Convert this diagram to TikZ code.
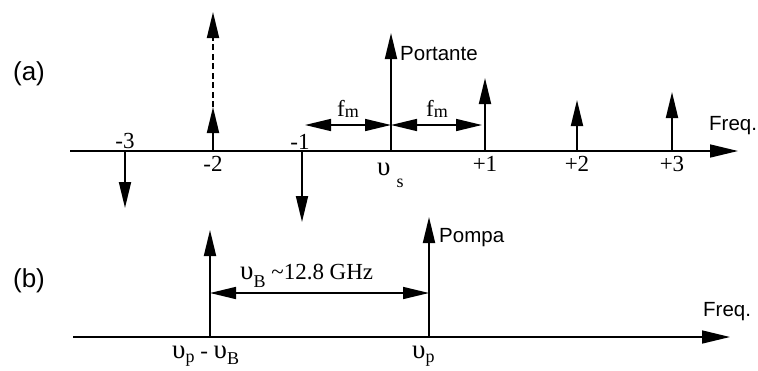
\documentclass[tikz,border=0pt]{standalone}
\usepackage{fontspec}
\setmainfont{Liberation Serif}
\newfontfamily\arialf{Liberation Sans}
\usetikzlibrary{arrows.meta}
\newcommand\lowsub[2][7pt]{\raisebox{-#1}{\fontsize{18}{18}\selectfont #2}}
\newcommand\ups{{\fontsize{27}{27}\selectfont υ}}
\begin{document}
\begin{tikzpicture}[x=1pt,y=-1pt,
  axisline/.style={line width=1.6pt,-{Triangle[length=28pt,width=13pt]}},
  spike/.style={line width=1.9pt,-{Triangle[length=26pt,width=12pt]}},
  dblarrow/.style={line width=1.6pt,{Triangle[length=26pt,width=12pt]}-{Triangle[length=26pt,width=12pt]}},
  sanslbl/.style={font=\arialf\fontsize{20.5}{20.5}\selectfont,inner sep=0pt},
  panellbl/.style={font=\arialf\fontsize{26}{26}\selectfont,inner sep=0pt},
  seriflbl/.style={font=\fontsize{23}{23}\selectfont,inner sep=0pt}]
\useasboundingbox (0,0) rectangle (758,370);
% ---------- panel (a)
\coordinate (a0) at (70,151);
\coordinate (a1) at (738,151);
\draw[axisline] (a0) -- (a1);
\coordinate (m3b) at (125,151); \coordinate (m3t) at (125,208);
\coordinate (m2b) at (213,151); \coordinate (m2m) at (213,107); \coordinate (m2t) at (213,12);
\coordinate (m1b) at (302,151); \coordinate (m1t) at (302,222);
\coordinate (cb) at (391,151); \coordinate (ct) at (391,33);
\coordinate (p1b) at (485,151); \coordinate (p1t) at (485,78);
\coordinate (p2b) at (577,151); \coordinate (p2t) at (577,100);
\coordinate (p3b) at (672,151); \coordinate (p3t) at (672,92);
\draw[spike] (m3b) -- (m3t);
\draw[spike] (m2b) -- (m2m);
\draw[spike,dash pattern=on 6pt off 3.5pt] (m2m) -- (m2t);
\draw[spike] (m1b) -- (m1t);
\draw[spike] (cb) -- (ct);
\draw[spike] (p1b) -- (p1t);
\draw[spike] (p2b) -- (p2t);
\draw[spike] (p3b) -- (p3t);
\coordinate (fl) at (305,125); \coordinate (fc) at (391,125); \coordinate (fr) at (482,125);
\draw[dblarrow] (fl) -- (fc);
\draw[dblarrow] (fc) -- (fr);
\node[seriflbl] (lm3) at (125,141) {-3};
\node[seriflbl] (lm2) at (213,164) {-2};
\node[seriflbl] (lm1) at (300,142) {-1};
\node[seriflbl] (lp1) at (485,164) {+1};
\node[seriflbl] (lp2) at (577,164) {+2};
\node[seriflbl] (lp3) at (672,164) {+3};
\node[seriflbl,anchor=base west] (lvs) at (377,175) {\ups\hspace{6pt}\lowsub[12pt]{s}};
\node[seriflbl,anchor=base] (fm1) at (348,116) {f\lowsub[1pt]{m}};
\node[seriflbl,anchor=base] (fm2) at (437,116) {f\lowsub[1pt]{m}};
\node[sanslbl,anchor=west] (port) at (400,54) {Portante};
\node[sanslbl,anchor=west] (freqa) at (709,126) {Freq.};
\node[panellbl] (la) at (29,74) {(a)};
% ---------- panel (b)
\coordinate (b0) at (73,337);
\coordinate (b1) at (730,337);
\draw[axisline] (b0) -- (b1);
\coordinate (sb) at (210,337); \coordinate (st) at (210,230);
\coordinate (pb) at (429,337); \coordinate (pt) at (429,217);
\draw[spike] (sb) -- (st);
\draw[spike] (pb) -- (pt);
\coordinate (bl) at (210,293); \coordinate (br) at (429,293);
\draw[dblarrow] (bl) -- (br);
\node[seriflbl,anchor=base west] (lvb) at (240,279) {\ups\lowsub[8pt]{B} \textasciitilde12.8 GHz};
\node[sanslbl,anchor=west] (pompa) at (439,238) {Pompa};
\node[sanslbl,anchor=west] (freqb) at (703,312) {Freq.};
\node[panellbl] (lb) at (29,281) {(b)};
\node[seriflbl,anchor=base west] (lvpb) at (172,358) {\ups\lowsub[4pt]{p} - \ups\lowsub[6pt]{B}};
\node[seriflbl,anchor=base west] (lvp) at (412,358) {\ups\lowsub[4pt]{p}};
\end{tikzpicture}
\end{document}
